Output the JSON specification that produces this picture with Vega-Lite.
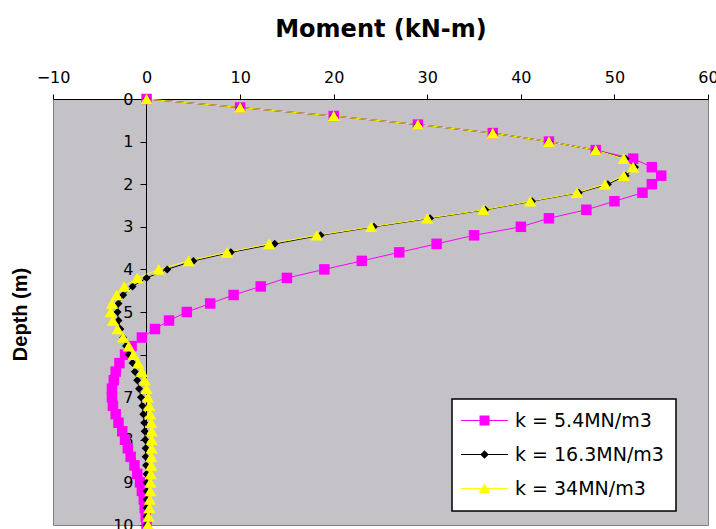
{
  "$schema": "https://vega.github.io/schema/vega-lite/v6.json",
  "width": 655,
  "height": 426,
  "autosize": "none",
  "padding": {"left": 53, "top": 99, "right": 8, "bottom": 4},
  "background": "white",
  "config": {
    "view": {"fill": "#c4c2c6", "stroke": "#808080", "strokeWidth": 1},
    "axis": {"grid": false}
  },
  "datasets": {
    "m": [
      {"series": "k = 5.4MN/m3", "depth": 0, "moment": 0},
      {"series": "k = 5.4MN/m3", "depth": 0.2, "moment": 10},
      {"series": "k = 5.4MN/m3", "depth": 0.4, "moment": 20},
      {"series": "k = 5.4MN/m3", "depth": 0.6, "moment": 29},
      {"series": "k = 5.4MN/m3", "depth": 0.8, "moment": 37},
      {"series": "k = 5.4MN/m3", "depth": 1.0, "moment": 43},
      {"series": "k = 5.4MN/m3", "depth": 1.2, "moment": 48},
      {"series": "k = 5.4MN/m3", "depth": 1.4, "moment": 52},
      {"series": "k = 5.4MN/m3", "depth": 1.6, "moment": 54},
      {"series": "k = 5.4MN/m3", "depth": 1.8, "moment": 55},
      {"series": "k = 5.4MN/m3", "depth": 2.0, "moment": 54},
      {"series": "k = 5.4MN/m3", "depth": 2.2, "moment": 53},
      {"series": "k = 5.4MN/m3", "depth": 2.4, "moment": 50},
      {"series": "k = 5.4MN/m3", "depth": 2.6, "moment": 47},
      {"series": "k = 5.4MN/m3", "depth": 2.8, "moment": 43},
      {"series": "k = 5.4MN/m3", "depth": 3.0, "moment": 40},
      {"series": "k = 5.4MN/m3", "depth": 3.2, "moment": 35},
      {"series": "k = 5.4MN/m3", "depth": 3.4, "moment": 31},
      {"series": "k = 5.4MN/m3", "depth": 3.6, "moment": 27},
      {"series": "k = 5.4MN/m3", "depth": 3.8, "moment": 23},
      {"series": "k = 5.4MN/m3", "depth": 4.0, "moment": 19},
      {"series": "k = 5.4MN/m3", "depth": 4.2, "moment": 15},
      {"series": "k = 5.4MN/m3", "depth": 4.4, "moment": 12.2},
      {"series": "k = 5.4MN/m3", "depth": 4.6, "moment": 9.3},
      {"series": "k = 5.4MN/m3", "depth": 4.8, "moment": 6.8},
      {"series": "k = 5.4MN/m3", "depth": 5.0, "moment": 4.3},
      {"series": "k = 5.4MN/m3", "depth": 5.2, "moment": 2.4},
      {"series": "k = 5.4MN/m3", "depth": 5.4, "moment": 0.9},
      {"series": "k = 5.4MN/m3", "depth": 5.6, "moment": -0.5},
      {"series": "k = 5.4MN/m3", "depth": 5.8, "moment": -1.6},
      {"series": "k = 5.4MN/m3", "depth": 6.0, "moment": -2.3},
      {"series": "k = 5.4MN/m3", "depth": 6.2, "moment": -2.9},
      {"series": "k = 5.4MN/m3", "depth": 6.4, "moment": -3.3},
      {"series": "k = 5.4MN/m3", "depth": 6.6, "moment": -3.5},
      {"series": "k = 5.4MN/m3", "depth": 6.8, "moment": -3.7},
      {"series": "k = 5.4MN/m3", "depth": 7.0, "moment": -3.7},
      {"series": "k = 5.4MN/m3", "depth": 7.2, "moment": -3.6},
      {"series": "k = 5.4MN/m3", "depth": 7.4, "moment": -3.3},
      {"series": "k = 5.4MN/m3", "depth": 7.6, "moment": -3.0},
      {"series": "k = 5.4MN/m3", "depth": 7.8, "moment": -2.6},
      {"series": "k = 5.4MN/m3", "depth": 8.0, "moment": -2.3},
      {"series": "k = 5.4MN/m3", "depth": 8.2, "moment": -2.0},
      {"series": "k = 5.4MN/m3", "depth": 8.4, "moment": -1.7},
      {"series": "k = 5.4MN/m3", "depth": 8.6, "moment": -1.3},
      {"series": "k = 5.4MN/m3", "depth": 8.8, "moment": -1.0},
      {"series": "k = 5.4MN/m3", "depth": 9.0, "moment": -0.7},
      {"series": "k = 5.4MN/m3", "depth": 9.2, "moment": -0.5},
      {"series": "k = 5.4MN/m3", "depth": 9.4, "moment": -0.3},
      {"series": "k = 5.4MN/m3", "depth": 9.6, "moment": -0.2},
      {"series": "k = 5.4MN/m3", "depth": 9.8, "moment": -0.1},
      {"series": "k = 5.4MN/m3", "depth": 10.0, "moment": 0},
      {"series": "k = 16.3MN/m3", "depth": 0, "moment": 0},
      {"series": "k = 16.3MN/m3", "depth": 0.2, "moment": 10},
      {"series": "k = 16.3MN/m3", "depth": 0.4, "moment": 20},
      {"series": "k = 16.3MN/m3", "depth": 0.6, "moment": 29},
      {"series": "k = 16.3MN/m3", "depth": 0.8, "moment": 37},
      {"series": "k = 16.3MN/m3", "depth": 1.0, "moment": 43},
      {"series": "k = 16.3MN/m3", "depth": 1.2, "moment": 48},
      {"series": "k = 16.3MN/m3", "depth": 1.4, "moment": 51.2},
      {"series": "k = 16.3MN/m3", "depth": 1.6, "moment": 52.2},
      {"series": "k = 16.3MN/m3", "depth": 1.8, "moment": 51.2},
      {"series": "k = 16.3MN/m3", "depth": 2.0, "moment": 49.3},
      {"series": "k = 16.3MN/m3", "depth": 2.2, "moment": 46.2},
      {"series": "k = 16.3MN/m3", "depth": 2.4, "moment": 41.2},
      {"series": "k = 16.3MN/m3", "depth": 2.6, "moment": 36.2},
      {"series": "k = 16.3MN/m3", "depth": 2.8, "moment": 30.3},
      {"series": "k = 16.3MN/m3", "depth": 3.0, "moment": 24.3},
      {"series": "k = 16.3MN/m3", "depth": 3.2, "moment": 18.6},
      {"series": "k = 16.3MN/m3", "depth": 3.4, "moment": 13.7},
      {"series": "k = 16.3MN/m3", "depth": 3.6, "moment": 9.0},
      {"series": "k = 16.3MN/m3", "depth": 3.8, "moment": 5.0},
      {"series": "k = 16.3MN/m3", "depth": 4.0, "moment": 2.2},
      {"series": "k = 16.3MN/m3", "depth": 4.2, "moment": 0},
      {"series": "k = 16.3MN/m3", "depth": 4.4, "moment": -1.5},
      {"series": "k = 16.3MN/m3", "depth": 4.6, "moment": -2.5},
      {"series": "k = 16.3MN/m3", "depth": 4.8, "moment": -3.0},
      {"series": "k = 16.3MN/m3", "depth": 5.0, "moment": -3.1},
      {"series": "k = 16.3MN/m3", "depth": 5.2, "moment": -3.0},
      {"series": "k = 16.3MN/m3", "depth": 5.4, "moment": -2.8},
      {"series": "k = 16.3MN/m3", "depth": 5.6, "moment": -2.5},
      {"series": "k = 16.3MN/m3", "depth": 5.8, "moment": -2.2},
      {"series": "k = 16.3MN/m3", "depth": 6.0, "moment": -1.9},
      {"series": "k = 16.3MN/m3", "depth": 6.2, "moment": -1.5},
      {"series": "k = 16.3MN/m3", "depth": 6.4, "moment": -1.25},
      {"series": "k = 16.3MN/m3", "depth": 6.6, "moment": -1.0},
      {"series": "k = 16.3MN/m3", "depth": 6.8, "moment": -0.8},
      {"series": "k = 16.3MN/m3", "depth": 7.0, "moment": -0.6},
      {"series": "k = 16.3MN/m3", "depth": 7.2, "moment": -0.45},
      {"series": "k = 16.3MN/m3", "depth": 7.4, "moment": -0.35},
      {"series": "k = 16.3MN/m3", "depth": 7.6, "moment": -0.25},
      {"series": "k = 16.3MN/m3", "depth": 7.8, "moment": -0.2},
      {"series": "k = 16.3MN/m3", "depth": 8.0, "moment": -0.15},
      {"series": "k = 16.3MN/m3", "depth": 8.2, "moment": -0.1},
      {"series": "k = 16.3MN/m3", "depth": 8.4, "moment": -0.1},
      {"series": "k = 16.3MN/m3", "depth": 8.6, "moment": -0.05},
      {"series": "k = 16.3MN/m3", "depth": 8.8, "moment": 0},
      {"series": "k = 16.3MN/m3", "depth": 9.0, "moment": 0},
      {"series": "k = 16.3MN/m3", "depth": 9.2, "moment": 0},
      {"series": "k = 16.3MN/m3", "depth": 9.4, "moment": 0},
      {"series": "k = 16.3MN/m3", "depth": 9.6, "moment": 0},
      {"series": "k = 16.3MN/m3", "depth": 9.8, "moment": 0},
      {"series": "k = 16.3MN/m3", "depth": 10.0, "moment": 0},
      {"series": "k = 34MN/m3", "depth": 0, "moment": 0},
      {"series": "k = 34MN/m3", "depth": 0.2, "moment": 10},
      {"series": "k = 34MN/m3", "depth": 0.4, "moment": 20},
      {"series": "k = 34MN/m3", "depth": 0.6, "moment": 29},
      {"series": "k = 34MN/m3", "depth": 0.8, "moment": 37},
      {"series": "k = 34MN/m3", "depth": 1.0, "moment": 43},
      {"series": "k = 34MN/m3", "depth": 1.2, "moment": 48},
      {"series": "k = 34MN/m3", "depth": 1.4, "moment": 51},
      {"series": "k = 34MN/m3", "depth": 1.6, "moment": 52},
      {"series": "k = 34MN/m3", "depth": 1.8, "moment": 51},
      {"series": "k = 34MN/m3", "depth": 2.0, "moment": 49},
      {"series": "k = 34MN/m3", "depth": 2.2, "moment": 46},
      {"series": "k = 34MN/m3", "depth": 2.4, "moment": 41},
      {"series": "k = 34MN/m3", "depth": 2.6, "moment": 36},
      {"series": "k = 34MN/m3", "depth": 2.8, "moment": 30},
      {"series": "k = 34MN/m3", "depth": 3.0, "moment": 24},
      {"series": "k = 34MN/m3", "depth": 3.2, "moment": 18.2},
      {"series": "k = 34MN/m3", "depth": 3.4, "moment": 13.1},
      {"series": "k = 34MN/m3", "depth": 3.6, "moment": 8.6},
      {"series": "k = 34MN/m3", "depth": 3.8, "moment": 4.5},
      {"series": "k = 34MN/m3", "depth": 4.0, "moment": 1.3},
      {"series": "k = 34MN/m3", "depth": 4.2, "moment": -1.0},
      {"series": "k = 34MN/m3", "depth": 4.4, "moment": -2.4},
      {"series": "k = 34MN/m3", "depth": 4.6, "moment": -3.2},
      {"series": "k = 34MN/m3", "depth": 4.8, "moment": -3.7},
      {"series": "k = 34MN/m3", "depth": 5.0, "moment": -3.85},
      {"series": "k = 34MN/m3", "depth": 5.2, "moment": -3.6},
      {"series": "k = 34MN/m3", "depth": 5.4, "moment": -3.1},
      {"series": "k = 34MN/m3", "depth": 5.6, "moment": -2.5},
      {"series": "k = 34MN/m3", "depth": 5.8, "moment": -1.9},
      {"series": "k = 34MN/m3", "depth": 6.0, "moment": -1.4},
      {"series": "k = 34MN/m3", "depth": 6.2, "moment": -0.9},
      {"series": "k = 34MN/m3", "depth": 6.4, "moment": -0.5},
      {"series": "k = 34MN/m3", "depth": 6.6, "moment": -0.2},
      {"series": "k = 34MN/m3", "depth": 6.8, "moment": 0},
      {"series": "k = 34MN/m3", "depth": 7.0, "moment": 0.15},
      {"series": "k = 34MN/m3", "depth": 7.2, "moment": 0.3},
      {"series": "k = 34MN/m3", "depth": 7.4, "moment": 0.4},
      {"series": "k = 34MN/m3", "depth": 7.6, "moment": 0.5},
      {"series": "k = 34MN/m3", "depth": 7.8, "moment": 0.55},
      {"series": "k = 34MN/m3", "depth": 8.0, "moment": 0.55},
      {"series": "k = 34MN/m3", "depth": 8.2, "moment": 0.55},
      {"series": "k = 34MN/m3", "depth": 8.4, "moment": 0.5},
      {"series": "k = 34MN/m3", "depth": 8.6, "moment": 0.5},
      {"series": "k = 34MN/m3", "depth": 8.8, "moment": 0.45},
      {"series": "k = 34MN/m3", "depth": 9.0, "moment": 0.4},
      {"series": "k = 34MN/m3", "depth": 9.2, "moment": 0.4},
      {"series": "k = 34MN/m3", "depth": 9.4, "moment": 0.35},
      {"series": "k = 34MN/m3", "depth": 9.6, "moment": 0.3},
      {"series": "k = 34MN/m3", "depth": 9.8, "moment": 0.2},
      {"series": "k = 34MN/m3", "depth": 10.0, "moment": 0.15}
    ]
  },
  "data": {"name": "m"},
  "encoding": {
    "x": {
      "field": "moment", "type": "quantitative",
      "scale": {"domain": [-10, 60], "nice": false, "zero": false},
      "axis": {
        "orient": "top", "values": [-10, 0, 10, 20, 30, 40, 50, 60],
        "title": "Moment (kN-m)", "titleFont": "DejaVu Sans", "titleFontSize": 24,
        "titleFontWeight": "bold", "titleColor": "black", "titlePadding": 28,
        "labelFont": "DejaVu Sans", "labelFontSize": 16, "labelColor": "black",
        "labelPadding": 9, "labelFlush": false, "labelOverlap": false,
        "tickSize": 5, "tickColor": "black", "domainColor": "black"
      }
    },
    "y": {
      "field": "depth", "type": "quantitative",
      "scale": {"domain": [0, 10], "reverse": true, "nice": false, "zero": false},
      "axis": {
        "orient": "left", "offset": -93, "values": [0, 1, 2, 3, 4, 5, 6, 7, 8, 9, 10],
        "title": "Depth (m)", "titleFont": "Liberation Sans", "titleFontSize": 20,
        "titleFontWeight": "bold", "titleColor": "black", "titleX": -116, "titleY": 215,
        "labelFont": "DejaVu Sans", "labelFontSize": 16, "labelColor": "black",
        "labelPadding": 7, "labelFlush": false, "labelOverlap": false,
        "tickSize": 6, "tickColor": "black", "domainColor": "black"
      }
    },
    "color": {
      "field": "series", "type": "nominal", "sort": null,
      "scale": {"domain": ["k = 5.4MN/m3", "k = 16.3MN/m3", "k = 34MN/m3"], "range": ["#ff00ff", "#000000", "#ffff00"]},
      "legend": {
        "title": null, "orient": "none", "legendX": 399, "legendY": 300,
        "fillColor": "white", "strokeColor": "black", "padding": 12,
        "labelFont": "DejaVu Sans", "labelFontSize": 19, "labelColor": "black",
        "symbolSize": 100, "symbolOffset": 11, "labelOffset": 21, "rowPadding": 14,
        "symbolStrokeWidth": 0,
        "encode": {
          "legend": {"update": {"strokeWidth": {"value": 1.5}}},
          "symbols": {
            "update": {
              "shape": {"signal": "datum.value === 'k = 5.4MN/m3' ? 'M-4.7,-0.12H4.7V0.12H-4.7ZM-1,-1H1V1H-1Z' : datum.value === 'k = 16.3MN/m3' ? 'M-4.7,-0.12H4.7V0.12H-4.7ZM0,-0.85L0.85,0L0,0.85L-0.85,0Z' : 'M-4.7,-0.12H4.7V0.12H-4.7ZM0,-1L1.15,0.9H-1.15Z'"},
              "fill": {"signal": "datum.value === 'k = 5.4MN/m3' ? '#ff00ff' : datum.value === 'k = 16.3MN/m3' ? '#000000' : '#ffff00'"},
              "fillOpacity": {"value": 1},
              "opacity": {"value": 1}
            }
          }
        }
      }
    }
  },
  "layer": [
    {
      "mark": {"type": "line", "strokeWidth": 1},
      "encoding": {"order": {"field": "depth", "type": "quantitative"}}
    },
    {
      "transform": [{"filter": "datum.series === 'k = 5.4MN/m3'"}],
      "mark": {"type": "point", "filled": true, "opacity": 1, "shape": "square", "size": 110}
    },
    {
      "transform": [{"filter": "datum.series === 'k = 16.3MN/m3'"}],
      "mark": {"type": "point", "filled": true, "opacity": 1, "shape": "diamond", "size": 64}
    },
    {
      "transform": [{"filter": "datum.series === 'k = 34MN/m3'"}],
      "mark": {"type": "point", "filled": true, "opacity": 1, "shape": "triangle-up", "size": 150}
    }
  ]
}
